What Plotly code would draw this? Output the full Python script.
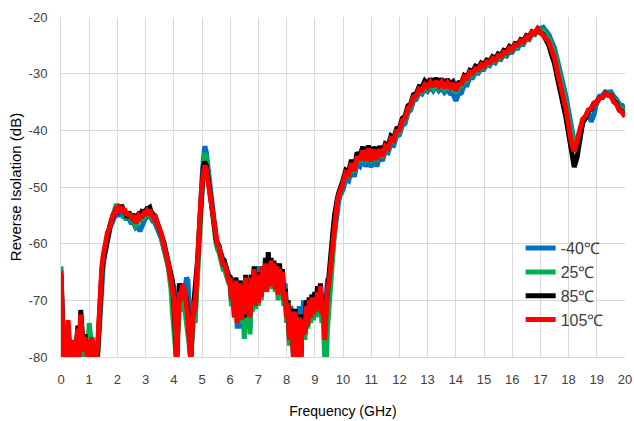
import numpy as np
import plotly.graph_objects as go

# Frequency sweep grid (GHz): 0.05 GHz step up to 9.95 GHz, 0.1 GHz step from 10 to 20 GHz
freq_low = np.round(np.arange(0, 200) * 0.05, 2)
freq_high = np.round(10 + np.arange(0, 101) * 0.1, 1)
freq_ghz = np.concatenate([freq_low, freq_high])

series_names = ["-40℃", "25℃", "85℃", "105℃"]

# ---- -40 C ----
iso_m40_low = [
    -66, -80, -82, -81, -78, -75, -79, -81, -78, -80.5,
    -81.5, -78.5, -76, -81, -74, -77, -80, -77.5, -79, -81,
    -78, -80, -77.5, -81, -80, -82, -80, -75, -70, -66,
    -63.5, -62, -60.5, -59.2, -58, -57, -56.5, -55.6, -55.3, -54.8,
    -54.5, -55.2, -54.6, -54.2, -55, -54.8, -55.8, -55.4, -55.5, -56,
    -56.5, -56, -56.5, -57.2, -57, -57.2, -57.8, -57, -56.5, -56,
    -55.5, -55.2, -55.2, -55, -55.6, -56, -56, -56.6, -57, -57.6,
    -58.2, -59, -60, -61, -62, -63.2, -64.5, -65.5, -66, -67,
    -67.5, -72, -80, -73, -67.5, -69, -70, -67, -68, -66,
    -66.5, -72, -80, -76, -72, -74, -68, -63, -59, -54,
    -48.5, -45, -42.8, -43.8, -46, -49, -51.5, -53.5, -55.5, -57.5,
    -59, -60, -60.5, -61.5, -62, -63, -63.5, -64, -65, -65.5,
    -66, -71, -66.5, -72, -66, -75, -69, -66.5, -75, -69,
    -74.5, -66.5, -72, -67.5, -75, -65.5, -70, -64.5, -69, -65,
    -64, -67.5, -68, -64, -66, -64.5, -66.5, -63.5, -66, -64,
    -66, -64, -67, -63.5, -67, -65.5, -68, -65, -69, -67,
    -72, -70, -75, -71, -74, -78, -72.5, -74, -80, -71,
    -80, -72.5, -70, -74, -70, -73, -71, -72.5, -69, -71,
    -69, -71, -69, -71, -68.5, -71, -69, -72, -68, -66.5,
    -66.4, -65, -63.5, -60, -58, -55.5, -53.5, -52.5, -51.5, -51,
]
iso_m40_high = [
    -50.5, -48.6, -48.9, -46.8, -48.2, -45.8, -46.3, -44.8, -46.4, -45.2,
    -46.5, -44.6, -46.4, -44.5, -45.4, -43.6, -43.9, -42.4, -42.6, -41,
    -40.8, -39.2, -38.8, -36.9, -36.4, -34.8, -34.5, -33.3, -33.6, -32.6,
    -33.1, -32.3, -33, -32.2, -33, -32.5, -33.3, -32.8, -33.5, -33.6,
    -34.8, -33.6, -33.4, -32, -32, -30.6, -30.7, -29.8, -29.9, -29,
    -29.2, -28.4, -28.6, -27.8, -28.1, -27.3, -27.5, -26.7, -26.9, -26,
    -26.2, -25.4, -25.5, -24.6, -24.8, -23.9, -24, -23, -23.1, -22.2,
    -22.1, -21.8, -22.5, -23.1, -24.3, -25.5, -27.5, -29.5, -31.9, -33.9,
    -36.6, -39.1, -42.1, -42.9, -40.6, -38.7, -37.9, -36.7, -38.5, -37.2,
    -34.9, -34, -33.9, -33.2, -33.3, -33.2, -34, -34.5, -35.4, -35.6,
    -36.2,
]

# ---- 25 C ----
iso_25_low = [
    -64, -79, -82, -80, -77, -75, -79, -81, -78, -80,
    -81, -78, -76, -80, -74.5, -77, -80, -77, -78.5, -80,
    -74, -77, -79, -81, -80, -82, -79, -73, -68, -65,
    -62.5, -61, -59.8, -58.5, -57.5, -56.5, -55.5, -54.5, -54, -53.3,
    -53.3, -54.2, -54.5, -53.8, -54.6, -54.3, -55.2, -55, -55.3, -55.5,
    -55.8, -55.6, -56, -56.8, -56.5, -55.8, -55.8, -55.2, -55.5, -55.2,
    -55, -54.6, -54.8, -54.7, -55.2, -55.4, -55.6, -56, -56.6, -57.2,
    -57.8, -58.6, -59.5, -60.5, -61.5, -63, -64, -66, -68, -72,
    -76, -78, -81, -76, -70, -72, -68, -70, -72, -74,
    -75, -78, -80, -77, -73, -74, -69, -65, -60, -55,
    -50.5, -46.5, -44, -44.8, -47, -49.5, -51.5, -53.5, -56, -58,
    -60, -61, -61.5, -62.5, -63.5, -64.5, -64.5, -65.5, -66, -67,
    -67.5, -71, -68, -73, -67, -74, -70, -67.5, -74, -70,
    -76.8, -69, -74, -69, -76, -67, -72, -66, -71.5, -67,
    -71, -66, -70, -65.5, -68.5, -64.5, -68, -64, -67.5, -65,
    -68, -64.5, -68.5, -65, -70, -66, -69, -66, -71, -69,
    -74, -72, -78, -73, -76, -81, -73.5, -77, -81, -74,
    -81, -75, -74.5, -77, -72, -75, -71, -74, -70.5, -73.5,
    -70.5, -73, -70, -72.5, -69, -74, -73, -80, -82, -75,
    -71, -67, -63.5, -59.5, -56.5, -54.5, -52.5, -51.5, -50.5, -50,
]
iso_25_high = [
    -49.5, -47.7, -48, -46, -47.4, -44.9, -45.6, -43.8, -45.6, -43.7,
    -45.7, -43.7, -45.4, -43.5, -44.8, -43.1, -43.4, -41.7, -42, -40.4,
    -40.3, -38.5, -38.2, -36.3, -35.9, -34.3, -34.1, -32.9, -33.2, -32.2,
    -32.7, -31.9, -32.6, -31.8, -32.5, -32, -32.7, -32.1, -32.7, -32.4,
    -33.4, -32.3, -32.2, -31, -31.2, -30, -30.2, -29.4, -29.6, -28.7,
    -28.9, -28.2, -28.3, -27.6, -27.8, -27, -27.2, -26.5, -26.6, -25.8,
    -25.9, -25.1, -25.2, -24.4, -24.5, -23.7, -23.8, -22.9, -23, -22.3,
    -22.2, -22.4, -23.3, -23.9, -25.2, -26.4, -28.5, -30.5, -32.9, -35.1,
    -37.9, -40.7, -42.7, -41.9, -40, -38.3, -37.6, -36.5, -36.2, -35.2,
    -35, -34.2, -34.1, -33.5, -33.6, -33.6, -34.5, -34.9, -35.9, -36.2,
    -36.8,
]

# ---- 85 C ----
iso_85_low = [
    -65.5, -79, -82, -80.5, -77, -74.5, -78.5, -80.5, -77.5, -79.5,
    -80.5, -77.5, -74.5, -79, -71.7, -75.5, -78.5, -76, -78, -80,
    -77.5, -79.5, -77, -80.5, -79, -81.5, -79, -73, -68, -65,
    -63, -61.5, -60, -58.8, -57.8, -56.6, -55.8, -55, -54.5, -53.9,
    -53.8, -54.2, -53.8, -53.2, -53.9, -54.2, -54.8, -54.4, -55, -54.8,
    -55.2, -54.8, -55.3, -55.8, -55.2, -54.8, -55, -54.5, -54.8, -54.3,
    -54.3, -53.8, -53.8, -53.6, -54.4, -54.6, -55, -55.3, -56, -56.4,
    -57.2, -58, -59, -59.8, -61, -62, -63.2, -64.2, -65, -66.5,
    -70, -75, -80.5, -73, -67, -69.5, -67.5, -69, -68.5, -70,
    -72, -76, -80.5, -74, -71, -70.5, -67, -62.5, -58, -53.5,
    -49.5, -46.5, -45.5, -46.2, -47.8, -50, -52, -54.2, -55.8, -57.8,
    -59.2, -60, -60.3, -61.5, -62.2, -63.4, -63.2, -64.2, -64.8, -66,
    -66, -69.5, -66.5, -72.5, -66, -73, -68.5, -66.5, -73, -67.5,
    -73, -65.5, -71, -67, -72.5, -65.5, -70.5, -64, -70, -65.5,
    -70, -65, -68.5, -64, -67, -62.5, -67.5, -61.5, -66, -62.5,
    -67, -63, -67.5, -63.5, -68, -63.5, -68, -64.5, -69.5, -68,
    -72.5, -70, -76.5, -71.5, -74.5, -80, -71.5, -75.5, -80, -72.5,
    -80.5, -73.5, -72.5, -75.5, -70, -73.5, -69.5, -72, -69, -72,
    -68.5, -71, -67.5, -70.5, -67, -71, -70, -74, -71, -67,
    -66, -63.5, -60.5, -57.5, -55, -53, -52, -51, -50, -49.2,
]
iso_85_high = [
    -48.8, -47, -47.3, -45.2, -46.6, -43.9, -44.6, -42.9, -44.8, -42.7,
    -45, -42.9, -44.7, -42.8, -44.1, -42.4, -42.7, -41, -41.4, -39.7,
    -39.6, -37.9, -37.5, -35.7, -35.3, -33.7, -33.5, -32.3, -32.4, -31.3,
    -31.9, -30.9, -31.7, -30.8, -31.7, -30.9, -32, -31, -31.8, -31.4,
    -32.8, -31.6, -31.6, -30.3, -30.6, -29.4, -29.6, -28.7, -29, -28.1,
    -28.4, -27.6, -27.8, -27, -27.3, -26.5, -26.7, -25.9, -26.1, -25.2,
    -25.6, -24.7, -24.8, -24, -24.2, -23.3, -23.5, -22.6, -22.8, -22.1,
    -22.8, -23.1, -24.1, -25, -26.7, -28.2, -30.7, -32.6, -35.3, -37.6,
    -40.7, -43.6, -46.5, -44.8, -40.9, -38.6, -37.8, -36.6, -36.3, -35.2,
    -35.1, -34.2, -34.2, -33.5, -33.8, -33.8, -34.8, -35.2, -36.4, -36.7,
    -37.5,
]

# ---- 105 C ----
iso_105_low = [
    -64.8, -78, -82, -80, -76, -73.5, -78, -80.5, -77, -79.5,
    -81, -77.5, -75, -80, -72.5, -76, -79, -76.5, -78, -80.5,
    -77, -79.5, -76.5, -80, -78.5, -81, -78, -72, -67, -64,
    -62, -60.5, -59.3, -58, -57.5, -56.2, -55.8, -54.8, -54.6, -53.8,
    -53.6, -54.6, -54, -53.4, -54.4, -53.8, -55, -54.5, -55.2, -54.7,
    -55.6, -55, -55.8, -56.4, -55.6, -55.1, -55.4, -54.8, -55.2, -54.6,
    -54.7, -54.2, -54.5, -54, -54.9, -55.1, -55.6, -55.4, -56.4, -56.8,
    -57.4, -58.2, -59.2, -60, -61, -62.3, -63.5, -65, -66.5, -68,
    -69.5, -74, -81, -74, -68.5, -70, -67.2, -69, -68, -71,
    -73, -77, -81, -75, -70, -72, -66, -62, -57, -53,
    -49.5, -47, -46.2, -46.8, -48.5, -50.5, -52.5, -54.5, -56, -58,
    -59.5, -60.3, -60.5, -61.8, -62.5, -63.8, -63.5, -64.5, -65, -66.5,
    -66.5, -70, -67, -73, -66.5, -74, -69, -67, -73.5, -68,
    -72.5, -66, -71.5, -67.5, -73, -66, -70, -64.5, -71, -66,
    -70.5, -65.5, -69.5, -64, -68, -63.5, -68.5, -64, -67, -63,
    -67.5, -63.5, -68, -64, -69, -64.5, -68.5, -65, -70, -68.5,
    -73, -70.5, -77, -72, -75, -81, -72, -76, -80.5, -73,
    -81, -74, -73.5, -76, -71, -74.5, -70, -73, -69.5, -72.5,
    -69.5, -72, -68.5, -71.5, -67.5, -72.5, -70, -77, -72, -68,
    -67, -64.5, -61.5, -59, -56, -54, -52.5, -51.5, -50.5, -49.8,
]
iso_105_high = [
    -49.3, -47.5, -47.8, -45.8, -47.2, -44.6, -45.3, -43.6, -45.4, -43.2,
    -45.5, -43.4, -45.2, -43.3, -44.6, -42.8, -43.2, -41.5, -41.8, -40.1,
    -40, -38.3, -37.9, -36.1, -35.6, -34.1, -33.9, -32.7, -32.9, -31.9,
    -32.4, -31.5, -32.3, -31.3, -32.2, -31.5, -32.5, -31.6, -32.4, -31.7,
    -33, -31.9, -31.8, -30.6, -30.8, -29.7, -29.9, -29.1, -29.3, -28.4,
    -28.7, -27.9, -28.1, -27.3, -27.6, -26.8, -27, -26.2, -26.4, -25.5,
    -25.8, -24.9, -25, -24.2, -24.4, -23.5, -23.7, -22.7, -22.9, -22.1,
    -22.6, -23.1, -23.9, -24.4, -25.9, -27.2, -29.6, -31.5, -34.1, -36.1,
    -39.1, -42.2, -43.7, -41.6, -39.8, -38, -37.5, -36.4, -36.2, -35.2,
    -35.1, -34.2, -34.2, -33.5, -33.7, -33.9, -35, -35.4, -36.5, -36.8,
    -37.6,
]

all_series = [
    iso_m40_low + iso_m40_high,
    iso_25_low + iso_25_high,
    iso_85_low + iso_85_high,
    iso_105_low + iso_105_high,
]
colors = ["#0070C0", "#00B050", "#000000", "#FF0000"]

x_ticks = list(range(0, 21))
y_ticks = [-80, -70, -60, -50, -40, -30, -20]

FONT = "Liberation Sans, Arial, sans-serif"

fig = go.Figure()
for name, vals, col in zip(series_names, all_series, colors):
    fig.add_trace(go.Scatter(
        x=freq_ghz, y=vals, mode="lines", name=name,
        line=dict(color=col, width=5),
    ))

fig.update_layout(
    width=634, height=421,
    margin=dict(l=61, r=9, t=17, b=64, autoexpand=False),
    paper_bgcolor="white", plot_bgcolor="white",
    font=dict(family=FONT, color="#404040", size=13),
    showlegend=True,
    legend=dict(
        x=0.815, y=0.37, xanchor="left", yanchor="top",
        bgcolor="rgba(0,0,0,0)", font=dict(size=16, color="#404040"),
        tracegroupgap=0, itemwidth=30,
    ),
)
fig.update_xaxes(
    range=[0, 20], tickvals=x_ticks, ticktext=[str(t) for t in x_ticks],
    showgrid=True, gridcolor="#d9d9d9", gridwidth=1,
    showline=True, linecolor="#d9d9d9", zeroline=False,
    ticks="outside", ticklen=10, tickcolor="rgba(0,0,0,0)",
    tickfont=dict(size=13, color="#404040"), automargin=False,
    title=dict(text="Frequency (GHz)", font=dict(size=14, color="#000000"), standoff=20),
)
fig.update_yaxes(
    range=[-80, -20], tickvals=y_ticks, ticktext=[str(t) for t in y_ticks],
    showgrid=True, gridcolor="#d9d9d9", gridwidth=1,
    showline=True, linecolor="#d9d9d9", zeroline=False,
    ticks="outside", ticklen=10, tickcolor="rgba(0,0,0,0)",
    tickfont=dict(size=13, color="#404040"), automargin=False,
    title=dict(text="Reverse Isolation (dB)", font=dict(size=15, color="#000000"), standoff=3),
)

fig.write_html(
    "out.html",
    config={"displayModeBar": False},
    post_script="document.body.style.margin='0';",
)
